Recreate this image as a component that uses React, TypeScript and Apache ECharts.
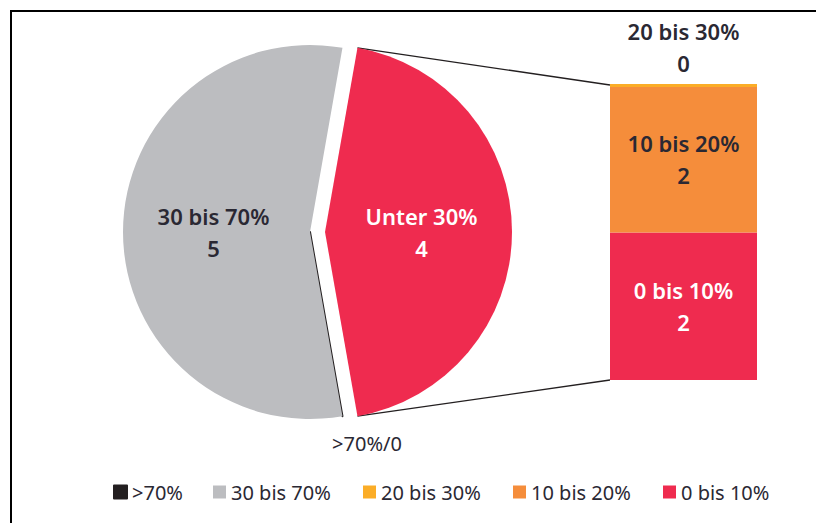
import React, { useEffect, useRef } from 'react';
import * as echarts from 'echarts';

// ---- data ----
const pieNames = ['Unter 30%', '>70%', '30 bis 70%'];
const pieValues = [4, 0, 5];
const barCategory = ['Unter 30%'];
const barNames = ['0 bis 10%', '10 bis 20%', '20 bis 30%'];
const barValues = [2, 2, 0];
const legendNames = ['>70%', '30 bis 70%', '20 bis 30%', '10 bis 20%', '0 bis 10%'];

// ---- styles ----
const COLORS: Record<string, string> = {
  '>70%': '#231f20',
  '30 bis 70%': '#bcbdc0',
  'Unter 30%': '#ef2b4f',
  '20 bis 30%': '#fbad27',
  '10 bis 20%': '#f58d3b',
  '0 bis 10%': '#ef2b4f',
};
const TEXT = '#2a2833';
const FONT = '"Noto Sans", sans-serif';
const PIE_CX = 310;
const PIE_CY = 232;
const PIE_R = 187;
const OFFSET = 15;
const GRID = { left: 610, right: 59, top: 85, bottom: 143 };
const LEGEND_LEFT = [113, 213, 363, 513, 663];

export default function App() {
  const ref = useRef<HTMLDivElement>(null);
  useEffect(() => {
    document.body.style.margin = '0';
    const chart = echarts.init(ref.current!, null, { renderer: 'svg' });
    const pieTotal = pieValues.reduce((a, b) => a + b, 0);
    const barTotal = barValues.reduce((a, b) => a + b, 0);
    const span = (pieValues[0] / pieTotal) * 360;
    const startAngle = span / 2;
    const big = { fontFamily: FONT, fontSize: 22, fontWeight: 600, lineHeight: 32 };

    const frame = {
      type: 'rect',
      silent: true,
      z: -10,
      shape: { x: 11, y: 11, width: 1000, height: 800 },
      style: { fill: 'none', stroke: '#000', lineWidth: 2 },
    };

    const option: any = {
      animation: false,
      graphic: [frame],
      legend: legendNames.map((n, i) => ({
        data: [n],
        left: LEGEND_LEFT[i],
        top: 482,
        padding: 0,
        icon: 'rect',
        itemWidth: 13,
        itemHeight: 13,
        selectedMode: false,
        textStyle: { fontFamily: FONT, fontSize: 20, color: TEXT },
      })),
      grid: { ...GRID },
      xAxis: { type: 'category', data: barCategory, show: false },
      yAxis: { type: 'value', min: 0, max: barTotal, show: false },
      series: [
        {
          type: 'pie',
          center: [PIE_CX, PIE_CY],
          radius: PIE_R,
          startAngle,
          clockwise: true,
          selectedMode: 'single',
          selectedOffset: OFFSET,
          emphasis: { disabled: true },
          labelLine: { show: false },
          data: pieNames.map((n, i) => ({
            name: n,
            value: pieValues[i],
            selected: i === 0,
            itemStyle:
              pieValues[i] === 0
                ? { color: COLORS[n], borderColor: COLORS[n], borderWidth: 2 }
                : { color: COLORS[n] },
            label:
              pieValues[i] === 0
                ? { show: true, position: 'outside', formatter: '{b}/{c}', color: TEXT, fontFamily: FONT, fontSize: 20 }
                : { show: true, position: 'inner', formatter: '{b}\n{c}', color: i === 0 ? '#fff' : TEXT, ...big },
          })),
          labelLayout: (p: any) =>
            p.dataIndex === 1 ? { x: 367, y: 443, align: 'center', verticalAlign: 'middle' } : {},
        },
        ...barNames.map((n, i) => {
          const cum = barValues.slice(0, i + 1).reduce((a, b) => a + b, 0);
          const s: any = {
            type: 'bar',
            name: n,
            stack: 'total',
            data: [barValues[i]],
            barWidth: '100%',
            barMinHeight: barValues[i] === 0 ? 3 : 0,
            emphasis: { disabled: true },
            itemStyle: { color: COLORS[n] },
            label: {
              show: true,
              position: barValues[i] === 0 ? 'top' : 'inside',
              distance: 6,
              formatter: '{a}\n{c}',
              color: i === 0 ? '#fff' : TEXT,
              ...big,
            },
          };
          if (barValues[i] === 0) {
            s.markLine = {
              silent: true,
              symbol: ['none', 'none'],
              label: { show: false },
              lineStyle: { color: COLORS[n], width: 3, type: 'solid' },
              data: [{ yAxis: cum }],
            };
          }
          return s;
        }),
      ],
    };
    chart.setOption(option);

    const barTop = chart.convertToPixel({ gridIndex: 0 }, [0, barTotal])[1];
    const barBottom = chart.convertToPixel({ gridIndex: 0 }, [0, 0])[1];
    const a = (startAngle * Math.PI) / 180;
    const sx = PIE_CX + OFFSET + PIE_R * Math.cos(a);
    const topY = PIE_CY - PIE_R * Math.sin(a);
    const botY = PIE_CY + PIE_R * Math.sin(a);
    const lineStyle = { stroke: '#231f20', lineWidth: 1.3 };
    chart.setOption({
      graphic: [
        frame,
        { type: 'line', silent: true, shape: { x1: sx, y1: topY, x2: GRID.left, y2: barTop }, style: lineStyle },
        { type: 'line', silent: true, shape: { x1: sx, y1: botY, x2: GRID.left, y2: barBottom }, style: lineStyle },
      ],
    });

    return () => chart.dispose();
  }, []);
  return <div ref={ref} style={{ width: 816, height: 523 }} />;
}
